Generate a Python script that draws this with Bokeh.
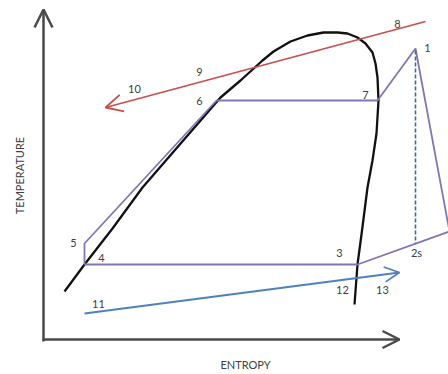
from bokeh.plotting import figure
from bokeh.models import Range1d, Arrow, OpenHead, ColumnDataSource
from bokeh.core.properties import value
from bokeh.embed import file_html
from bokeh.resources import INLINE

# Saturation dome (entropy, temperature) in picture units (y grows downward)
dome_s = [64, 84, 112, 142, 181, 220, 240, 251, 262, 273, 290, 307, 323, 337, 347, 357, 365, 372, 375, 377, 378, 376, 372, 367, 361, 357, 354]
dome_t = [291, 264, 228, 187, 142, 97, 80, 70, 60, 51, 41, 35, 32, 32, 33, 37, 43, 52, 63, 77, 100, 133, 160, 187, 234, 264, 304]

# Cycle states 4-5-6-7-1-2-3-4
cycle_s = [84, 84, 216, 377, 415, 449, 357, 84]
cycle_t = [264, 243, 100, 100, 48, 231, 264, 264]

# Isentropic 1 -> 2s
isen_s = [415, 415]
isen_t = [50, 243]

# Hot stream 8 -> 10 and cold stream 11 -> 13
hot_s = [425, 105]
hot_t = [21, 107]
cold_s = [84, 399]
cold_t = [313, 272]

# Axes
yaxis_s = [43, 43]
yaxis_t = [341, 9]
xaxis_s = [42, 399]
xaxis_t = [339, 339]

label_text = ["8", "1", "7", "9", "10", "6", "5", "4", "11", "3", "2s", "12", "13"]
label_s = [397, 427, 365, 199, 134, 199, 73, 101, 98, 339, 416, 342, 382]
label_t = [23, 47, 94, 71, 88, 100, 242, 257, 303, 252, 252, 289, 289]

p = figure(width=448, height=374, x_range=Range1d(0, 448), y_range=Range1d(374, 0),
           output_backend="svg", toolbar_location=None, min_border=0)
p.axis.visible = False
p.grid.visible = False
p.outline_line_color = None
p.background_fill_color = "white"

purple = "#8474b4"
red = "#c8504c"
blue = "#4f81bd"
axis_col = "#4a4a4a"
txt = "#404040"

# axes with open arrow heads
p.add_layout(Arrow(end=OpenHead(size=18, line_width=2.5, line_color=axis_col),
                   x_start=yaxis_s[0], y_start=yaxis_t[0], x_end=yaxis_s[1], y_end=yaxis_t[1],
                   line_width=2.5, line_color=axis_col))
p.add_layout(Arrow(end=OpenHead(size=17, line_width=2.5, line_color=axis_col),
                   x_start=xaxis_s[0], y_start=xaxis_t[0], x_end=xaxis_s[1], y_end=xaxis_t[1],
                   line_width=2.5, line_color=axis_col))

# dome
p.line(dome_s, dome_t, line_color="#111111", line_width=2.3, line_join="round")

# cycle
p.line(cycle_s, cycle_t, line_color=purple, line_width=1.8)
p.line(isen_s, isen_t, line_color="#3f6aa0", line_width=1.6, line_dash="4 2")

# streams
p.add_layout(Arrow(end=OpenHead(size=17, line_width=1.8, line_color=red),
                   x_start=hot_s[0], y_start=hot_t[0], x_end=hot_s[1], y_end=hot_t[1],
                   line_width=1.8, line_color=red))
p.add_layout(Arrow(end=OpenHead(size=15, line_width=1.8, line_color=blue),
                   x_start=cold_s[0], y_start=cold_t[0], x_end=cold_s[1], y_end=cold_t[1],
                   line_width=1.8, line_color=blue))

src = ColumnDataSource(dict(x=label_s, y=label_t, t=label_text))
p.text(x="x", y="y", text="t", source=src, text_font=value("Lato"), text_font_size="11px",
       text_color=txt, text_align="center", text_baseline="middle")

p.text(x=[245], y=[364], text=["ENTROPY"], text_font=value("Lato"), text_font_size="11px",
       text_color=txt, text_align="center", text_baseline="middle")
p.text(x=[19], y=[175], text=["TEMPERATURE"], text_font=value("Lato"), text_font_size="11px",
       text_color=txt, text_align="center", text_baseline="middle", angle=1.5708)

open("out.html", "w").write(file_html(p, INLINE))
